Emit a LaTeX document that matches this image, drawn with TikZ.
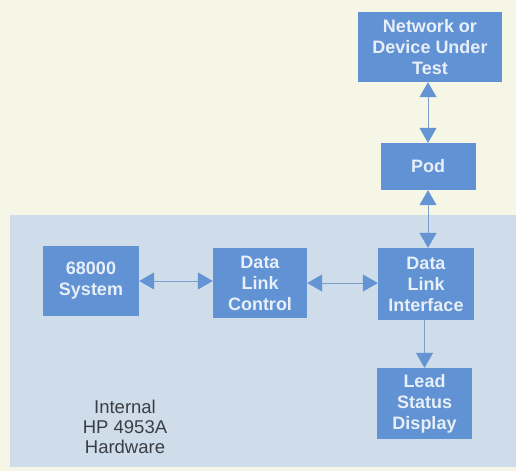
\documentclass[tikz,border=0pt]{standalone}
\usepackage{fontspec}
\setmainfont{Liberation Sans}
\usepackage{tikz}
\usetikzlibrary{arrows.meta,calc}
\usepackage{xcolor}

\definecolor{paper}{RGB}{246,246,231}
\definecolor{hwshade}{RGB}{206,221,233}
\definecolor{boxblue}{RGB}{96,146,212}
\definecolor{boxtext}{RGB}{232,239,248}
\definecolor{linkblue}{RGB}{125,158,205}
\definecolor{tipblue}{RGB}{100,148,212}
\definecolor{labelgray}{RGB}{58,62,68}

\tikzset{
    blk/.style={fill=boxblue, text=boxtext, align=center, inner sep=0pt,
        font=\fontsize{18}{21}\selectfont\bfseries,
        minimum width=95pt, minimum height=71pt},
    link/.style={draw=linkblue, line width=1pt}
}

\begin{document}
\begin{tikzpicture}[x=1pt, y=-1pt, >={Triangle[width=17pt,length=15pt,color=tipblue]}]
    % Paper and frame
    \fill[paper] (0,0) rectangle (516,471);
    \useasboundingbox (0,0) rectangle (516,471);

    % Internal hardware area
    \fill[hwshade] (10,215) rectangle (516,467);

    % Outside the instrument
    \node[blk, minimum width=144pt, minimum height=70pt] (dut) at (430,47) {Network or\\Device Under\\Test};
    \node[blk, minimum height=47pt] (pod) at (428,166.5) {Pod};

    % Inside the instrument
    \node[blk, minimum width=96pt, minimum height=70pt] (cpu) at (91,281) {68000\\System};
    \node[blk, minimum width=94pt, minimum height=70pt] (dlc) at (260,283) {Data\\Link\\Control};
    \node[blk, minimum width=96pt, minimum height=72pt] (dli) at (426,284) {Data\\Link\\Interface};
    \node[blk] (lsd) at (424.5,403.5) {Lead\\Status\\Display};

    % Label
    \node[text=labelgray, align=center, font=\fontsize{18.5}{20}\selectfont] (hw) at (125,427) {Internal\\HP 4953A\\Hardware};

    % Links
    \draw[link, <->] (dut.south -| pod.north) -- (pod.north);
    \draw[link, <->] (pod.south) -- (pod.south |- dli.north);
    \draw[link, <->] (cpu.east) -- (cpu.east -| dlc.west);
    \draw[link, <->] (dlc.east) -- (dlc.east -| dli.west);
    \draw[link, ->] (dli.south -| lsd.north) -- (lsd.north);
\end{tikzpicture}
\end{document}
